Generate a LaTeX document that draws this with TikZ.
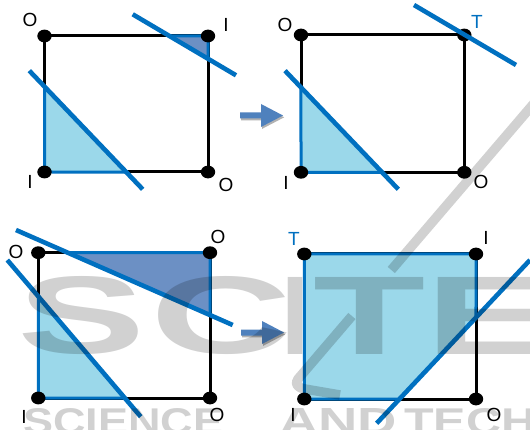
\documentclass[tikz,border=0pt]{standalone}
\usepackage{fontspec}
\setmainfont{Liberation Sans}
\usepackage{graphicx}

\definecolor{lineblue}{RGB}{0,112,192}
\definecolor{lightfill}{RGB}{155,216,234}
\definecolor{darkfill}{RGB}{108,144,196}
\definecolor{arrowblue}{RGB}{79,129,189}

\tikzset{
  frame/.style={draw=black, line width=3pt},
  region/.style={draw=lineblue, line width=3pt},
  cut/.style={draw=lineblue, line width=4.6pt},
  lbl/.style={font=\fontsize{19}{19}\selectfont, inner sep=0pt},
  tlbl/.style={lbl, text=lineblue},
  wm/.style={anchor=south west, inner sep=0pt, font=\bfseries},
  blockarrow/.pic={
    \fill[black!30, shift={(1.2,1.8)}]
      (0,-3) -- (21,-3) -- (21,-11.5) -- (43,0) -- (21,11.5) -- (21,3) -- (0,3) -- cycle;
    \fill[arrowblue]
      (0,-3) -- (21,-3) -- (21,-11.5) -- (43,0) -- (21,11.5) -- (21,3) -- (0,3) -- cycle;
  }
}

\newcommand{\corners}[1]{%
  \foreach \c in {TL,TR,BR,BL}
    \fill (#1\c) ellipse [x radius=7.2pt, y radius=6.4pt];}

\begin{document}
\begin{tikzpicture}[x=1pt,y=-1pt]
\useasboundingbox (0,0) rectangle (530,430);
\fill[white] (0,0) rectangle (530,430);

% ---------- upper left square ----------
\coordinate (aTL) at (44.5,36);  \coordinate (aTR) at (208,36);
\coordinate (aBR) at (208,172);  \coordinate (aBL) at (44.5,172);
\coordinate (aU1) at (132.7,14.3); \coordinate (aU2) at (236,75.3);
\coordinate (aL1) at (29.3,70.7);  \coordinate (aL2) at (142.7,189.3);
\draw[frame] (aTL) -- (aTR) -- (aBR) -- (aBL) -- cycle;
\filldraw[region, fill=darkfill] (intersection of aU1--aU2 and aTL--aTR) -- (aTR)
  -- (intersection of aU1--aU2 and aTR--aBR) -- cycle;
\filldraw[region, fill=lightfill] (intersection of aL1--aL2 and aTL--aBL) -- (aBL)
  -- (intersection of aL1--aL2 and aBL--aBR) -- cycle;
\draw[cut] (aU1) -- (aU2);
\draw[cut] (aL1) -- (aL2);
\corners{a}
\node[lbl] (aO1) at (30,20) {O};
\node[lbl] (aI1) at (226,25) {I};
\node[lbl] (aI2) at (30,182) {I};
\node[lbl] (aO2) at (226,185) {O};

% ---------- upper right square ----------
\coordinate (bTL) at (301,35);   \coordinate (bTR) at (464.3,35);
\coordinate (bBR) at (464.3,172.3); \coordinate (bBL) at (301,172.3);
\coordinate (bU1) at (414,5);    \coordinate (bU2) at (516,65);
\coordinate (bL1) at (285,70.7); \coordinate (bL2) at (398.3,189.3);
\draw[frame] (bTL) -- (bTR) -- (bBR) -- (bBL) -- cycle;
\filldraw[region, fill=lightfill] (intersection of bL1--bL2 and bTL--bBL) -- (bBL)
  -- (intersection of bL1--bL2 and bBL--bBR) -- cycle;
\draw[cut] (bL1) -- (bL2);
\corners{b}
\draw[cut] (bU1) -- (bU2);
\node[lbl] (bO1) at (285,25) {O};
\node[tlbl] (bT) at (477,22) {T};
\node[lbl] (bI) at (286,183) {I};
\node[lbl] (bO2) at (481,182) {O};

% ---------- lower left square ----------
\coordinate (cTL) at (38.3,252.7); \coordinate (cTR) at (210,252.7);
\coordinate (cBR) at (210,398);    \coordinate (cBL) at (38.3,398);
\coordinate (cU1) at (16,230);     \coordinate (cU2) at (232.7,325);
\coordinate (cL1) at (7.3,260);    \coordinate (cL2) at (140.7,416.7);
\draw[frame] (cTL) -- (cTR) -- (cBR) -- (cBL) -- cycle;
\filldraw[region, fill=darkfill] (intersection of cU1--cU2 and cTL--cTR) -- (cTR)
  -- (intersection of cU1--cU2 and cTR--cBR) -- cycle;
\filldraw[region, fill=lightfill] (intersection of cL1--cL2 and cTL--cBL) -- (cBL)
  -- (intersection of cL1--cL2 and cBL--cBR) -- cycle;
\draw[cut] (cU1) -- (cU2);
\draw[cut] (cL1) -- (cL2);
\corners{c}
\node[lbl] (cO1) at (16,252) {O};
\node[lbl] (cO2) at (218,237) {O};
\node[lbl] (cI) at (24,417) {I};
\node[lbl] (cO3) at (217,415) {O};

% ---------- lower right square ----------
\coordinate (dTL) at (304.3,254); \coordinate (dTR) at (476,254);
\coordinate (dBR) at (476,399);   \coordinate (dBL) at (304.3,399);
\coordinate (dL1) at (376.7,423.3); \coordinate (dL2) at (530,260);
\draw[frame] (dTL) -- (dTR) -- (dBR) -- (dBL) -- cycle;
\filldraw[region, fill=lightfill] (dTL) -- (dTR)
  -- (intersection of dL1--dL2 and dTR--dBR)
  -- (intersection of dL1--dL2 and dBL--dBR) -- (dBL) -- cycle;
\draw[cut] (dL1) -- (dL2);
\corners{d}
\node[tlbl] (dT) at (294,239) {T};
\node[lbl] (dI1) at (486,238) {I};
\node[lbl] (dI2) at (293,415) {I};
\node[lbl] (dO) at (494,415) {O};

% ---------- block arrows between the squares ----------
\pic at (240,115.5) {blockarrow};
\pic at (241,332.5) {blockarrow};

% ---------- publisher mark laid over the figure ----------
\begin{scope}[transparency group, opacity=0.18]
  \clip (0,0) rectangle (530,430);
  \node[wm] (wS) at (17,355)  {\resizebox{128pt}{77pt}{S}};
  \node[wm] (wC) at (150,355) {\resizebox{142pt}{77pt}{C}};
  \node[wm] (wI) at (281,355) {\resizebox{28pt}{77pt}{I}};
  \node[wm] (wT) at (313,355) {\resizebox{112pt}{77pt}{T}};
  \node[wm] (wE) at (425,355) {\resizebox{127pt}{77pt}{E}};
  \draw[line width=9.5pt] (545.4,90) -- (391.3,270);
  \draw[line width=9.5pt, line join=round]
    (351.9,316) -- (298,379) .. controls (294,384) and (298,388) .. (305,389) -- (340,395);
  \node[wm] (wL1) at (23,435)  {\resizebox{200pt}{26pt}{SCIENCE}};
  \node[wm] (wL2) at (279,435) {\resizebox{118pt}{26pt}{AND}};
  \node[wm] (wL3) at (404,435) {\resizebox{132pt}{26pt}{TECH}};
\end{scope}
\end{tikzpicture}
\end{document}
